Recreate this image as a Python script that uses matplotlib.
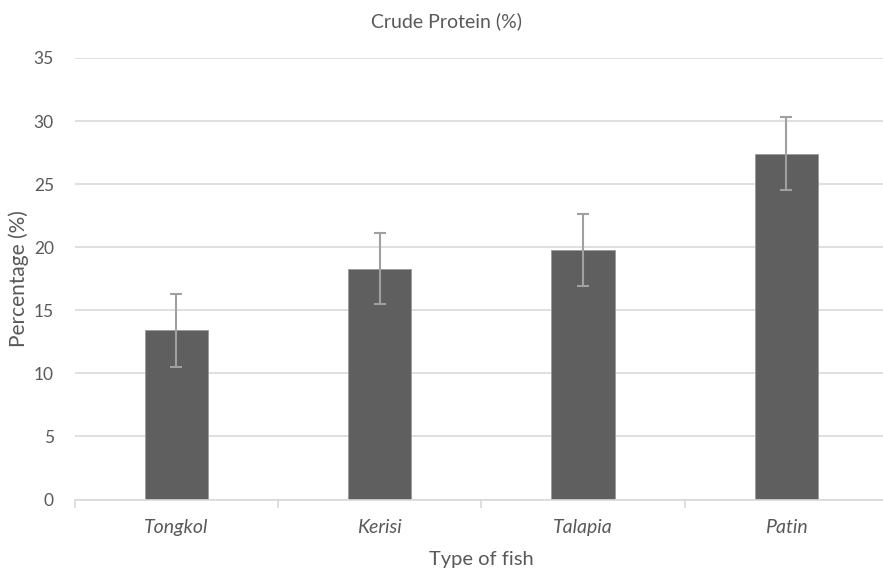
import numpy as np
import matplotlib.pyplot as plt

# data
fish = ['Tongkol', 'Kerisi', 'Talapia', 'Patin']
protein = [13.4, 18.3, 19.8, 27.4]
err = [2.9, 2.8, 2.85, 2.9]

plt.rcParams['font.family'] = ['Lato', 'DejaVu Sans']
txt = '#595959'
grid = '#d9d9d9'

fig = plt.figure(figsize=(8.83, 5.77), dpi=100)
ax = fig.add_axes([74.7 / 883, (577 - 499.5) / 577, (888 - 74.7) / 883, 441.5 / 577])

x = np.arange(len(fish))
ax.bar(x, protein, width=0.31, color='#5f5f5f', edgecolor='#9a9a9a', linewidth=0.6, zorder=2)
ax.errorbar(x, protein, yerr=err, fmt='none', ecolor='#a0a0a0', elinewidth=1.5,
            capsize=4, capthick=1.5, zorder=3)

ax.set_xlim(-0.5, len(fish) - 0.5)
ax.set_ylim(0, 35)
ax.set_yticks(np.arange(0, 36, 5))
ax.yaxis.grid(True, color=grid, linewidth=1.2, zorder=0)
ax.set_axisbelow(True)

for s in ['top', 'right', 'left']:
    ax.spines[s].set_visible(False)
ax.spines['bottom'].set_color(grid)
ax.spines['bottom'].set_linewidth(1.2)

ax.set_xticks(x)
ax.set_xticklabels(fish, fontstyle='italic', fontsize=14, color=txt)
ax.tick_params(axis='x', length=0, pad=14)
ax.set_xticks(np.arange(-0.5, len(fish), 1), minor=True)
ax.tick_params(axis='x', which='minor', length=6, color=grid, width=1.2)
ax.tick_params(axis='y', length=0, pad=15, labelsize=12.5, labelcolor=txt)

ax.set_xlabel('Type of fish', fontsize=14.5, color=txt, labelpad=11)
ax.set_ylabel('Percentage (%)', fontsize=15, color=txt, labelpad=3)
ax.set_title('Crude Protein (%)', fontsize=14, color=txt, pad=22, x=0.4566)

fig.savefig('out.png', dpi=100)
